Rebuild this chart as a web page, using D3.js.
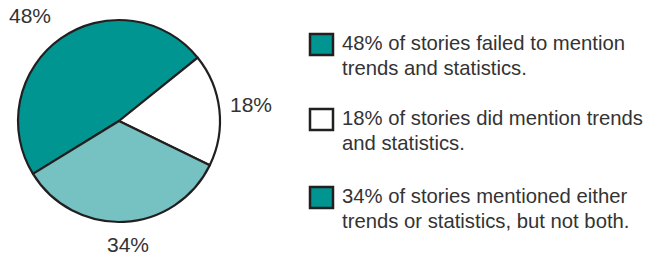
<!DOCTYPE html>
<html>
<head>
<meta charset="utf-8">
<script src="https://cdn.jsdelivr.net/npm/d3@7"></script>
<style>
  body { margin: 0; background: #fff; }
  text { font-family: "Liberation Sans", Arial, sans-serif; fill: #333; }
</style>
</head>
<body>
<svg width="649" height="258"></svg>
<script>
// slice data, clockwise starting from the lower left boundary
var sliceLabels = ["48%", "18%", "34%"];
var sliceValues = [48, 18, 34];
var sliceColors = ["#009590", "#ffffff", "#76c1c1"];

// legend entries (the third swatch is dark teal in the original)
var legendLines = [
  ["48% of stories failed to mention", "trends and statistics."],
  ["18% of stories did mention trends", "and statistics."],
  ["34% of stories mentioned either", "trends or statistics, but not both."]
];
var legendColors = ["#009590", "#ffffff", "#009590"];

var svg = d3.select("svg");

var cx = 119, cy = 121, radius = 101;
var startDeg = -121.6;

var pie = d3.pie()
    .sort(null)
    .startAngle(startDeg * Math.PI / 180)
    .endAngle(startDeg * Math.PI / 180 + 2 * Math.PI);

var arc = d3.arc().innerRadius(0).outerRadius(radius);

var pieGroup = svg.append("g")
    .attr("transform", "translate(" + cx + "," + cy + ")");

var arcs = pie(sliceValues);

pieGroup.selectAll("path")
    .data(arcs)
    .enter().append("path")
    .attr("d", arc)
    .attr("fill", (d, i) => sliceColors[i])
    .attr("stroke", "#231f20")
    .attr("stroke-width", 2.2)
    .attr("stroke-linejoin", "round");

// outside labels, offset from the pie centre
var labelOffsets = [[-110, -98], [111, -9], [-12, 131]];
svg.selectAll(".pie-label")
    .data(arcs)
    .enter().append("text")
    .attr("class", "pie-label")
    .attr("x", (d, i) => cx + labelOffsets[i][0])
    .attr("y", (d, i) => cy + labelOffsets[i][1])
    .attr("font-size", "21px")
    .text((d, i) => sliceLabels[i]);

// legend
var legendY = [33, 108, 186];
var legend = svg.selectAll(".legend")
    .data(legendLines)
    .enter().append("g")
    .attr("class", "legend")
    .attr("transform", (d, i) => "translate(309," + legendY[i] + ")");

legend.append("rect")
    .attr("x", 1)
    .attr("y", 1)
    .attr("width", 23)
    .attr("height", 21)
    .attr("fill", (d, i) => legendColors[i])
    .attr("stroke", "#231f20")
    .attr("stroke-width", 2.5);

legend.selectAll("text")
    .data(d => d)
    .enter().append("text")
    .attr("x", 33)
    .attr("y", (d, j) => 17 + j * 25)
    .attr("font-size", "20.3px")
    .text(d => d);
</script>
</body>
</html>
